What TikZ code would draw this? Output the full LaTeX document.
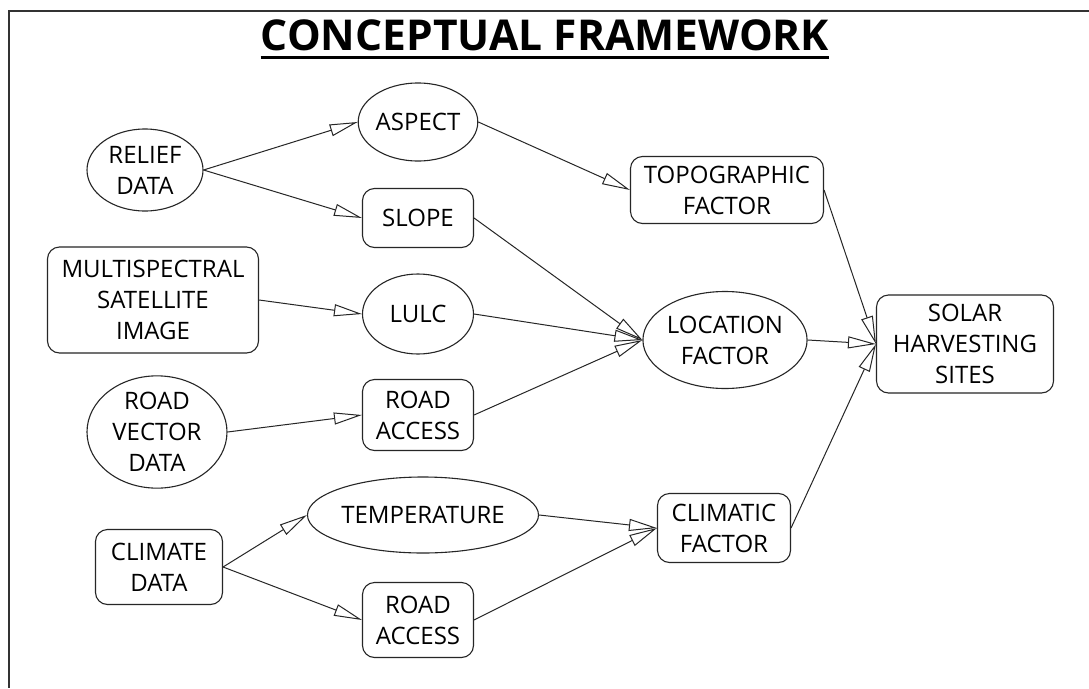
\documentclass[tikz,border=0pt]{standalone}
\usepackage{fontspec}
\setmainfont{Open Sans}
\usetikzlibrary{arrows.meta,shapes.geometric}
\tikzset{
  base/.style={draw=black!85, line width=1.1pt, inner sep=0pt, align=center,
    font=\fontsize{24}{31}\selectfont},
  oval/.style={base, ellipse},
  rbox/.style={base, rectangle, rounded corners=12pt},
  link/.style={draw=black!85, line width=1pt, -{Triangle[open, length=28pt, width=12pt, line width=1pt]}},
}
\begin{document}
\begin{tikzpicture}[x=1pt, y=-1pt]
\useasboundingbox (0,0) rectangle (1089,688);
\fill[white] (0,0) rectangle (1089,688);
\draw[line width=2pt, black!80] (1089,11) -- (9,11) -- (9,688);
% title
\node[inner sep=0pt, font=\fontsize{42.5}{42.5}\bfseries\selectfont, anchor=base] (title) at (545,50) {CONCEPTUAL FRAMEWORK};
\draw[line width=3pt] ([yshift=-7pt]title.base west) -- ([yshift=-7pt]title.base east);
% nodes
\node[oval, minimum width=116pt, minimum height=82pt] (relief) at (145,170) {RELIEF\\DATA};
\node[oval, minimum width=111pt, minimum height=78pt] (aspect) at (418,122) {ASPECT};
\node[rbox, minimum width=111pt, minimum height=59pt] (slope) at (418,218) {SLOPE};
\node[rbox, minimum width=211pt, minimum height=106pt] (multi) at (153,300) {MULTISPECTRAL\\SATELLITE\\IMAGE};
\node[oval, minimum width=111pt, minimum height=80pt] (lulc) at (418,314) {LULC};
\node[rbox, minimum width=193pt, minimum height=67pt] (topo) at (727,190) {TOPOGRAPHIC\\FACTOR};
\node[oval, minimum width=156pt, minimum height=97pt] (loc) at (725,340) {LOCATION\\FACTOR};
\node[rbox, minimum width=177pt, minimum height=98pt] (solar) at (965,344) {SOLAR\\HARVESTING\\SITES};
\node[oval, minimum width=140pt, minimum height=110pt] (roadvec) at (157,432) {ROAD\\VECTOR\\DATA};
\node[rbox, minimum width=111pt, minimum height=71pt] (road1) at (418,415) {ROAD\\ACCESS};
\node[oval, minimum width=195pt, minimum height=76pt] (temp) at (423,515) {TEMPERATURE};
\node[rbox, minimum width=127pt, minimum height=75pt] (climate) at (159,567) {CLIMATE\\DATA};
\node[rbox, minimum width=111pt, minimum height=75pt] (road2) at (418,620) {ROAD\\ACCESS};
\node[rbox, minimum width=133pt, minimum height=69pt] (climatic) at (724,528) {CLIMATIC\\FACTOR};
% connectors
\draw[link] (relief.east) -- (aspect.west);
\draw[link] (relief.east) -- (slope.west);
\draw[link] (multi.east) -- (lulc.west);
\draw[link] (roadvec.east) -- (road1.west);
\draw[link] (climate.east) -- (temp.west);
\draw[link] (climate.east) -- (road2.west);
\draw[link] (aspect.east) -- (topo.west);
\draw[link] (slope.east) -- (loc.west);
\draw[link] (lulc.east) -- (loc.west);
\draw[link] (road1.east) -- (loc.west);
\draw[link] (temp.east) -- (climatic.west);
\draw[link] (road2.east) -- (climatic.west);
\draw[link] (topo.east) -- (solar.west);
\draw[link] (loc.east) -- (solar.west);
\draw[link] (climatic.east) -- (solar.west);
\end{tikzpicture}
\end{document}
